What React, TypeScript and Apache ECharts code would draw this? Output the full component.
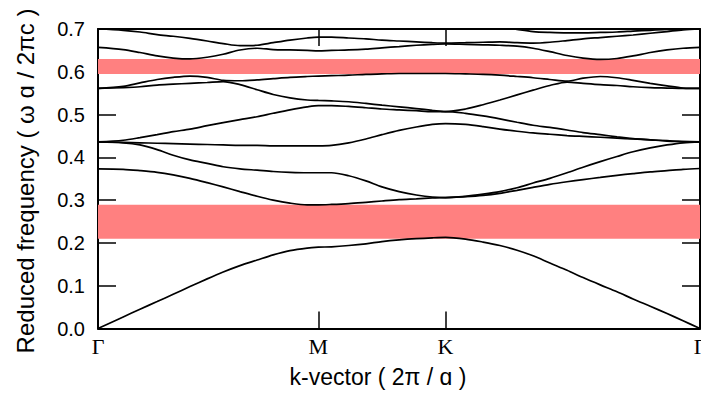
import React, { useEffect, useRef } from "react";
import * as echarts from "echarts";

// k positions along Γ → M → K → Γ (units of 2π/a)
const kPoints = [
  0, 0.066, 0.11, 0.155, 0.197, 0.241, 0.286, 0.328, 0.372, 0.417, 0.459, 0.503, 0.548, 0.5774,
  0.612, 0.657, 0.702, 0.744, 0.789, 0.834, 0.876, 0.9107,
  0.963, 1.009, 1.053, 1.098, 1.14, 1.184, 1.229, 1.271, 1.316, 1.36, 1.402, 1.447, 1.491, 1.533, 1.5774,
];
const symK = [0, 0.5774, 0.9107, 1.5774];
const symLabels = ["Γ", "M", "K", "Γ"];

const band1 = [
  0, 0.027, 0.045, 0.063, 0.08, 0.098, 0.116, 0.132, 0.147, 0.16, 0.172, 0.182, 0.188, 0.19,
  0.191, 0.194, 0.198, 0.203, 0.207, 0.21, 0.212, 0.213,
  0.209, 0.202, 0.194, 0.183, 0.17, 0.153, 0.136, 0.119, 0.102, 0.086, 0.069, 0.052, 0.035, 0.018, 0,
];
const band2 = [
  0.373, 0.372, 0.369, 0.365, 0.359, 0.351, 0.341, 0.331, 0.32, 0.309, 0.3, 0.293, 0.289, 0.289,
  0.29, 0.292, 0.295, 0.298, 0.301, 0.303, 0.305, 0.306,
  0.308, 0.311, 0.316, 0.323, 0.33, 0.337, 0.343, 0.348, 0.353, 0.358, 0.362, 0.366, 0.369, 0.372, 0.374,
];
const band3 = [
  0.436, 0.434, 0.429, 0.418, 0.405, 0.394, 0.386, 0.378, 0.373, 0.37, 0.367, 0.365, 0.364, 0.364,
  0.364, 0.357, 0.345, 0.331, 0.32, 0.312, 0.307, 0.306,
  0.309, 0.314, 0.32, 0.329, 0.34, 0.351, 0.364, 0.377, 0.39, 0.402, 0.413, 0.422, 0.429, 0.434, 0.436,
];
const band4 = [
  0.436, 0.435, 0.434, 0.433, 0.432, 0.431, 0.43, 0.429, 0.428, 0.428, 0.427, 0.427, 0.427, 0.427,
  0.428, 0.434, 0.443, 0.453, 0.463, 0.471, 0.477, 0.479,
  0.477, 0.472, 0.466, 0.461, 0.457, 0.454, 0.451, 0.449, 0.447, 0.445, 0.443, 0.441, 0.439, 0.437, 0.436,
];
const band5 = [
  0.436, 0.44, 0.446, 0.453, 0.46, 0.466, 0.474, 0.481, 0.488, 0.495, 0.503, 0.511, 0.518, 0.521,
  0.521, 0.519, 0.516, 0.513, 0.511, 0.509, 0.507, 0.507,
  0.503, 0.497, 0.49, 0.482, 0.475, 0.47, 0.464, 0.458, 0.453, 0.448, 0.444, 0.441, 0.438, 0.437, 0.436,
];
const band6 = [
  0.561, 0.563, 0.565, 0.569, 0.571, 0.573, 0.575, 0.577, 0.57, 0.558, 0.547, 0.539, 0.534, 0.533,
  0.532, 0.53, 0.526, 0.522, 0.518, 0.514, 0.51, 0.507,
  0.513, 0.523, 0.534, 0.546, 0.557, 0.568, 0.576, 0.573, 0.57, 0.568, 0.565, 0.563, 0.562, 0.561, 0.561,
];
const band7 = [
  0.561, 0.566, 0.574, 0.582, 0.587, 0.59, 0.587, 0.58, 0.579, 0.581, 0.584, 0.587, 0.589, 0.59,
  0.591, 0.592, 0.594, 0.595, 0.596, 0.596, 0.596, 0.596,
  0.595, 0.594, 0.592, 0.589, 0.586, 0.582, 0.578, 0.585, 0.589, 0.586, 0.58, 0.573, 0.567, 0.562, 0.561,
];
const band8 = [
  0.657, 0.652, 0.645, 0.637, 0.632, 0.63, 0.634, 0.641, 0.651, 0.655, 0.652, 0.651, 0.65, 0.649,
  0.65, 0.651, 0.653, 0.656, 0.659, 0.662, 0.664, 0.665,
  0.664, 0.663, 0.662, 0.66, 0.655, 0.647, 0.638, 0.632, 0.629, 0.631, 0.637, 0.645, 0.651, 0.655, 0.657,
];
const band9 = [
  0.7, 0.697, 0.693, 0.687, 0.683, 0.678, 0.672, 0.666, 0.661, 0.662, 0.668, 0.674, 0.679, 0.681,
  0.681, 0.679, 0.677, 0.674, 0.672, 0.67, 0.668, 0.667,
  0.668, 0.669, 0.67, 0.668, 0.667, 0.669, 0.673, 0.677, 0.68, 0.683, 0.686, 0.69, 0.694, 0.698, 0.7,
];
const band10 = [
  0.7, 0.712, 0.72, 0.728, 0.735, 0.74, 0.745, 0.748, 0.75, 0.75, 0.75, 0.75, 0.75, 0.75,
  0.75, 0.748, 0.745, 0.742, 0.738, 0.733, 0.727, 0.722,
  0.716, 0.71, 0.705, 0.699, 0.694, 0.692, 0.691, 0.691, 0.692, 0.693, 0.695, 0.697, 0.699, 0.7, 0.7,
];
const bands = [band1, band2, band3, band4, band5, band6, band7, band8, band9, band10];

// photonic band gaps (reduced frequency)
const gapLow = [0.21, 0.595];
const gapHigh = [0.289, 0.63];

const xName = "k-vector ( 2π / ɑ )";
const yName = "Reduced frequency ( ω ɑ / 2πc )";

export default function App() {
  const ref = useRef<HTMLDivElement>(null);
  useEffect(() => {
    if (!ref.current) return;
    const chart = echarts.init(ref.current, undefined, { renderer: "svg" });
    const frame = { color: "#000", width: 2 };
    const tick = { color: "#000", width: 1.5 };
    const labelFor = (v: number) => {
      let best = 0;
      symK.forEach((k, i) => {
        if (Math.abs(k - v) < Math.abs(symK[best] - v)) best = i;
      });
      return symLabels[best];
    };
    const xBase = {
      type: "value",
      min: 0,
      max: symK[3],
      splitLine: { show: false },
      axisLine: { show: true, onZero: false, lineStyle: frame },
    };
    const yBase = {
      type: "value",
      min: 0,
      max: 0.7,
      interval: 0.1,
      splitLine: { show: false },
      axisLine: { show: true, onZero: false, lineStyle: frame },
      axisTick: { show: true, inside: true, length: 18, lineStyle: tick },
    };
    chart.setOption({
      animation: false,
      grid: {
        left: 98,
        right: 1,
        top: 29,
        bottom: 65.5,
        containLabel: false,
        outerBoundsMode: "none",
      },
      xAxis: [
        {
          ...xBase,
          position: "bottom",
          axisTick: { show: true, inside: true, length: 17, customValues: [symK[1], symK[2]], lineStyle: tick },
          axisLabel: {
            customValues: symK,
            formatter: (v: number) => labelFor(v),
            fontFamily: "Liberation Serif",
            fontSize: 22,
            color: "#000",
            margin: 7,
          },
        },
        {
          ...xBase,
          position: "top",
          axisTick: { show: true, inside: true, length: 17, customValues: [symK[1], symK[2]], lineStyle: tick },
          axisLabel: { show: false },
        },
      ],
      yAxis: [
        {
          ...yBase,
          position: "left",
          axisLabel: {
            formatter: (v: number) => v.toFixed(1),
            fontFamily: "Liberation Sans",
            fontSize: 20,
            color: "#000",
            margin: 13,
          },
        },
        { ...yBase, position: "right", axisLabel: { show: false } },
      ],
      graphic: [
        {
          type: "text",
          x: 378,
          y: 377,
          style: {
            text: xName,
            fontFamily: "Liberation Sans",
            fontSize: 23,
            fill: "#000",
            align: "center",
            verticalAlign: "middle",
          },
        },
        {
          type: "text",
          x: 25,
          y: 181,
          rotation: Math.PI / 2,
          style: {
            text: yName,
            fontFamily: "Liberation Sans",
            fontSize: 24,
            fill: "#000",
            align: "center",
            verticalAlign: "middle",
          },
        },
      ],
      series: [
        {
          type: "line",
          data: [[0, 0]],
          symbol: "none",
          lineStyle: { opacity: 0 },
          z: 1,
          silent: true,
          markArea: {
            silent: true,
            itemStyle: { color: "#ff8080", opacity: 1 },
            data: gapLow.map((lo, i) => [{ yAxis: lo }, { yAxis: gapHigh[i] }]),
          },
        },
        ...bands.map((b) => ({
          type: "line",
          data: kPoints.map((k, i) => [k, b[i]]),
          showSymbol: false,
          symbol: "none",
          smooth: 0.3,
          clip: true,
          z: 3,
          lineStyle: { color: "#000", width: 1.7 },
        })),
      ],
    });
    return () => chart.dispose();
  }, []);
  return (
    <div
      ref={ref}
      style={{ position: "fixed", left: 0, top: 0, width: 701, height: 394, background: "#fff" }}
    />
  );
}
